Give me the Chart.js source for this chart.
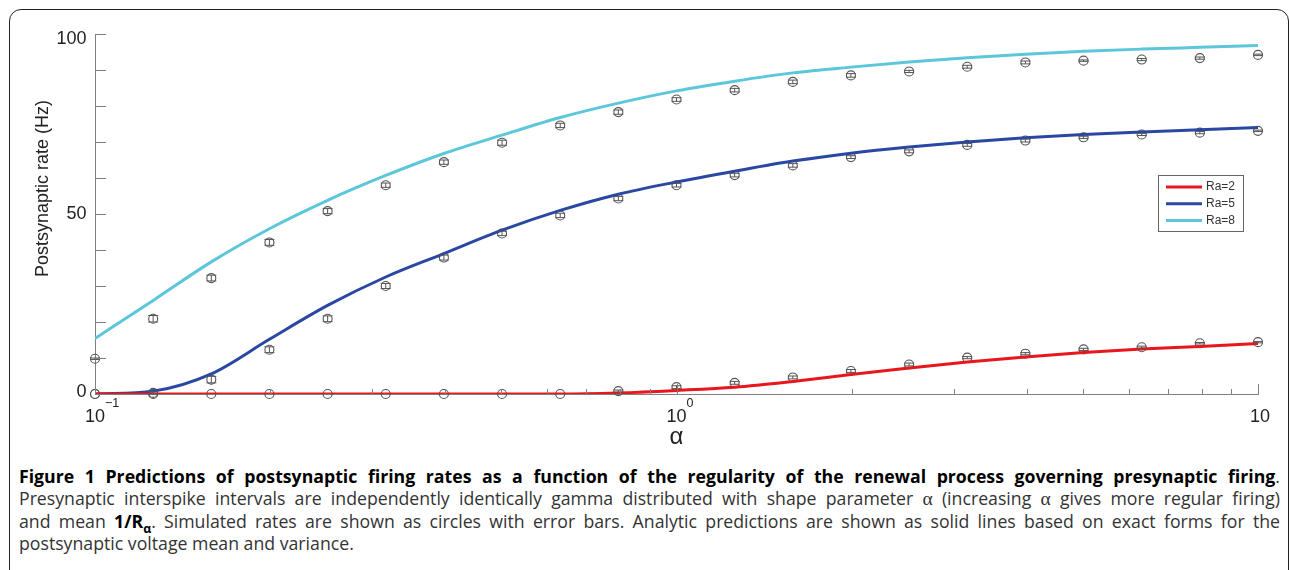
<!DOCTYPE html>
<html>
<head>
<meta charset="utf-8">
<script src="https://cdn.jsdelivr.net/npm/chart.js"></script>
<style>
  body { margin: 0; background: #fff; width: 1290px; height: 570px; overflow: hidden; position: relative; }
  #frame { position: absolute; left: 9px; top: 9px; width: 1280px; height: 640px; box-sizing: border-box;
           border: 1.5px solid #222; border-radius: 12px; }
  #chartBox { position: absolute; left: 0; top: 0; width: 1290px; height: 450px; }
  #caption { position: absolute; left: 19px; top: 465px; width: 1261px; font-family: "Open Sans", sans-serif;
             font-size: 17.7px; line-height: 22px; color: #333; }
  #caption .j { text-align: justify; text-align-last: justify; }
  #caption b { color: #000; }
  #caption sub { font-size: 70%; line-height: 0; }
  .gr { font-family: "Liberation Serif", serif; font-size: 110%; }
</style>
</head>
<body>
<div id="frame"></div>
<div id="chartBox"><canvas id="rateChart" width="1290" height="450"></canvas></div>
<div id="caption">
  <div class="j"><b>Figure 1 Predictions of postsynaptic firing rates as a function of the regularity of the renewal process governing presynaptic firing</b>.</div>
  <div class="j">Presynaptic interspike intervals are independently identically gamma distributed with shape parameter <span class="gr">α</span> (increasing <span class="gr">α</span> gives more regular firing)</div>
  <div class="j">and mean <b>1/R<sub>α</sub></b>. Simulated rates are shown as circles with error bars. Analytic predictions are shown as solid lines based on exact forms for the</div>
  <div>postsynaptic voltage mean and variance.</div>
</div>

<script>
  // shape parameter alpha (log spaced, 10 points per decade)
  var alphaValues = [0.1, 0.1259, 0.1585, 0.1995, 0.2512, 0.3162, 0.3981, 0.5012, 0.631, 0.7943, 1,
                     1.259, 1.585, 1.995, 2.512, 3.162, 3.981, 5.012, 6.31, 7.943, 10];

  // simulated rates (circles) and their error bars
  var simRa2 = [0, 0, 0, 0, 0, 0, 0, 0, 0, 0.8, 1.9, 3.1, 4.6, 6.4, 8.2, 10.1, 11.2, 12.4, 13.0, 14.1, 14.4];
  var simRa5 = [0, 0.3, 4.0, 12.3, 20.9, 30.0, 37.9, 44.6, 49.6, 54.3, 58.0, 60.8, 63.5, 65.8, 67.4, 69.2, 70.4, 71.3, 72.1, 72.6, 73.1];
  var simRa8 = [9.8, 20.9, 32.2, 42.1, 50.8, 58.0, 64.4, 69.8, 74.6, 78.3, 81.8, 84.4, 86.7, 88.5, 89.6, 90.9, 92.1, 92.6, 92.9, 93.3, 94.2];
  var errRa2 = [0, 0, 0, 0, 0, 0, 0, 0, 0, 0.3, 0.4, 0.4, 0.4, 0.4, 0.4, 0.3, 0.3, 0.3, 0.3, 0.2, 0.2];
  var errRa5 = [0, 0.3, 0.9, 0.8, 0.8, 0.7, 0.7, 0.6, 0.6, 0.6, 0.5, 0.5, 0.5, 0.4, 0.4, 0.4, 0.4, 0.3, 0.3, 0.3, 0.2];
  var errRa8 = [0.2, 0.9, 0.8, 0.8, 0.7, 0.6, 0.6, 0.7, 0.6, 0.6, 0.5, 0.5, 0.5, 0.5, 0.3, 0.4, 0.4, 0.2, 0.3, 0.3, 0.2];

  // analytic predictions (solid lines)
  var fitRa2 = [0, 0, 0, 0, 0, 0, 0, 0, 0, 0.3, 1.0, 1.9, 3.5, 5.4, 7.2, 8.9, 10.3, 11.5, 12.5, 13.2, 14.0];
  var fitRa5 = [0, 0.8, 5.6, 15.2, 24.6, 32.5, 39.0, 45.5, 51.0, 55.5, 58.9, 61.9, 64.7, 66.9, 68.6, 70.0, 71.2, 72.1, 72.8, 73.4, 74.0];
  var fitRa8 = [15.4, 26.0, 36.7, 45.9, 53.8, 60.7, 66.8, 71.9, 76.8, 80.8, 84.2, 86.9, 89.2, 90.8, 92.2, 93.4, 94.4, 95.2, 95.8, 96.3, 96.8];

  var seriesLabels = ['Ra=2', 'Ra=5', 'Ra=8'];
  var seriesColors = ['#e8161d', '#2a47a3', '#5cc6db'];

  var yTickLabels = [0, 50, 100];
  var yTickMarks = [0, 10, 20, 30, 40, 50, 60, 70, 80, 90, 100];
  var xTickMarks = [0.1, 0.2, 0.3, 0.4, 0.5, 0.6, 0.7, 0.8, 0.9, 1, 2, 3, 4, 5, 6, 7, 8, 9, 10];
  var xLabelValues = [0.1, 1, 10];
  var xLabelBase = ['10', '10', '10'];
  var xLabelExp = ['\u22121', '0', ''];

  function pairs(xs, ys) {
    return xs.map(function (x, i) { return { x: x, y: ys[i] }; });
  }

  function fitDataset(i, values) {
    return {
      type: 'line', label: seriesLabels[i], data: pairs(alphaValues, values),
      borderColor: seriesColors[i], borderWidth: 3, pointRadius: 0, fill: false,
      cubicInterpolationMode: 'monotone'
    };
  }

  function simDataset(values, errors) {
    return {
      type: 'scatter', data: pairs(alphaValues, values), errors: errors,
      pointRadius: 4.5, pointBorderWidth: 1.1, pointBorderColor: '#555',
      pointBackgroundColor: 'rgba(0,0,0,0)', clip: false
    };
  }

  var figureExtras = {
    id: 'figureExtras',
    afterDatasetsDraw: function (chart) {
      var ctx = chart.ctx, xs = chart.scales.x, ys = chart.scales.y;
      ctx.save();
      ctx.strokeStyle = '#555';
      ctx.lineWidth = 1;
      chart.data.datasets.forEach(function (ds) {
        if (!ds.errors) return;
        ds.data.forEach(function (p, i) {
          var e = ds.errors[i];
          if (!e) return;
          var px = xs.getPixelForValue(p.x);
          var y1 = ys.getPixelForValue(p.y - e), y2 = ys.getPixelForValue(p.y + e);
          ctx.beginPath();
          ctx.moveTo(px, y1); ctx.lineTo(px, y2);
          ctx.moveTo(px - 5, y1); ctx.lineTo(px + 5, y1);
          ctx.moveTo(px - 5, y2); ctx.lineTo(px + 5, y2);
          ctx.stroke();
        });
      });
      ctx.restore();
    },
    afterDraw: function (chart) {
      var ctx = chart.ctx, xs = chart.scales.x, ys = chart.scales.y, area = chart.chartArea;
      ctx.save();
      ctx.strokeStyle = '#808080';
      ctx.lineWidth = 1;
      ctx.beginPath();
      yTickMarks.forEach(function (v) {
        var py = Math.round(ys.getPixelForValue(v)) + 0.5;
        ctx.moveTo(area.left, py); ctx.lineTo(area.left + 11, py);
      });
      xTickMarks.forEach(function (v) {
        var px = Math.round(xs.getPixelForValue(v)) + 0.5;
        var len = xLabelValues.indexOf(v) >= 0 ? 10 : 5;
        ctx.moveTo(px, area.bottom); ctx.lineTo(px, area.bottom - len);
      });
      ctx.stroke();

      // y tick labels, kept inside the axis range like the original
      ctx.fillStyle = '#222';
      ctx.font = '18px "Liberation Sans"';
      ctx.textAlign = 'right';
      ctx.textBaseline = 'middle';
      yTickLabels.forEach(function (v) {
        var py = Math.min(Math.max(ys.getPixelForValue(v), area.top + 5), area.bottom - 2);
        ctx.fillText(String(v), area.left - 8.5, py);
      });

      // x tick labels with exponents
      xLabelValues.forEach(function (v, i) {
        var px = xs.getPixelForValue(v);
        ctx.font = '18px "Liberation Sans"';
        ctx.textAlign = 'center';
        ctx.textBaseline = 'alphabetic';
        var w = ctx.measureText(xLabelBase[i]).width;
        var shift = xLabelExp[i] ? 0 : 2;
        ctx.fillText(xLabelBase[i], px + shift, area.bottom + 28);
        if (xLabelExp[i]) {
          ctx.font = '12.5px "Liberation Sans"';
          ctx.textAlign = 'left';
          ctx.fillText(xLabelExp[i], px + w / 2, area.bottom + 13);
        }
      });

      // axis titles
      ctx.font = '24px "Liberation Sans"';
      ctx.textAlign = 'center';
      ctx.fillText('\u03b1', (area.left + area.right) / 2, area.bottom + 50);
      ctx.save();
      ctx.translate(43, 188.5);
      ctx.rotate(-Math.PI / 2);
      ctx.font = '18px "Liberation Sans"';
      ctx.textBaseline = 'middle';
      ctx.fillText('Postsynaptic rate (Hz)', 0, 0);
      ctx.restore();

      // legend box
      var lx = area.right - 99.5, ly = 175.5;
      ctx.fillStyle = '#fff';
      ctx.fillRect(lx, ly, 85, 56);
      ctx.strokeStyle = '#666';
      ctx.strokeRect(lx, ly, 85, 56);
      ctx.font = '12px "Liberation Sans"';
      ctx.textAlign = 'left';
      ctx.textBaseline = 'middle';
      seriesLabels.forEach(function (label, i) {
        var cy = ly + 11.5 + i * 16.7;
        ctx.strokeStyle = seriesColors[i];
        ctx.lineWidth = 3;
        ctx.beginPath();
        ctx.moveTo(lx + 7.5, cy); ctx.lineTo(lx + 43.5, cy);
        ctx.stroke();
        ctx.fillStyle = '#333';
        ctx.fillText(label, lx + 47.5, cy);
      });
      ctx.restore();
    }
  };

  var ctxR = document.getElementById('rateChart').getContext('2d');
  var rateChart = new Chart(ctxR, {
    type: 'scatter',
    data: {
      datasets: [
        fitDataset(0, fitRa2), fitDataset(1, fitRa5), fitDataset(2, fitRa8),
        simDataset(simRa2, errRa2), simDataset(simRa5, errRa5), simDataset(simRa8, errRa8)
      ]
    },
    options: {
      responsive: false,
      animation: false,
      layout: { padding: { left: 10, right: 32, top: 34, bottom: 0 } },
      plugins: { legend: { display: false }, tooltip: { enabled: false } },
      scales: {
        x: {
          type: 'logarithmic', min: 0.1, max: 10,
          grid: { display: false },
          border: { display: true, color: '#808080', width: 1 },
          ticks: { display: false },
          afterFit: function (scale) { scale.height = 56; }
        },
        y: {
          type: 'linear', min: 0, max: 100,
          grid: { display: false },
          border: { display: true, color: '#808080', width: 1 },
          ticks: { display: false },
          afterFit: function (scale) { scale.width = 85; }
        }
      }
    },
    plugins: [figureExtras]
  });
</script>
</body>
</html>
